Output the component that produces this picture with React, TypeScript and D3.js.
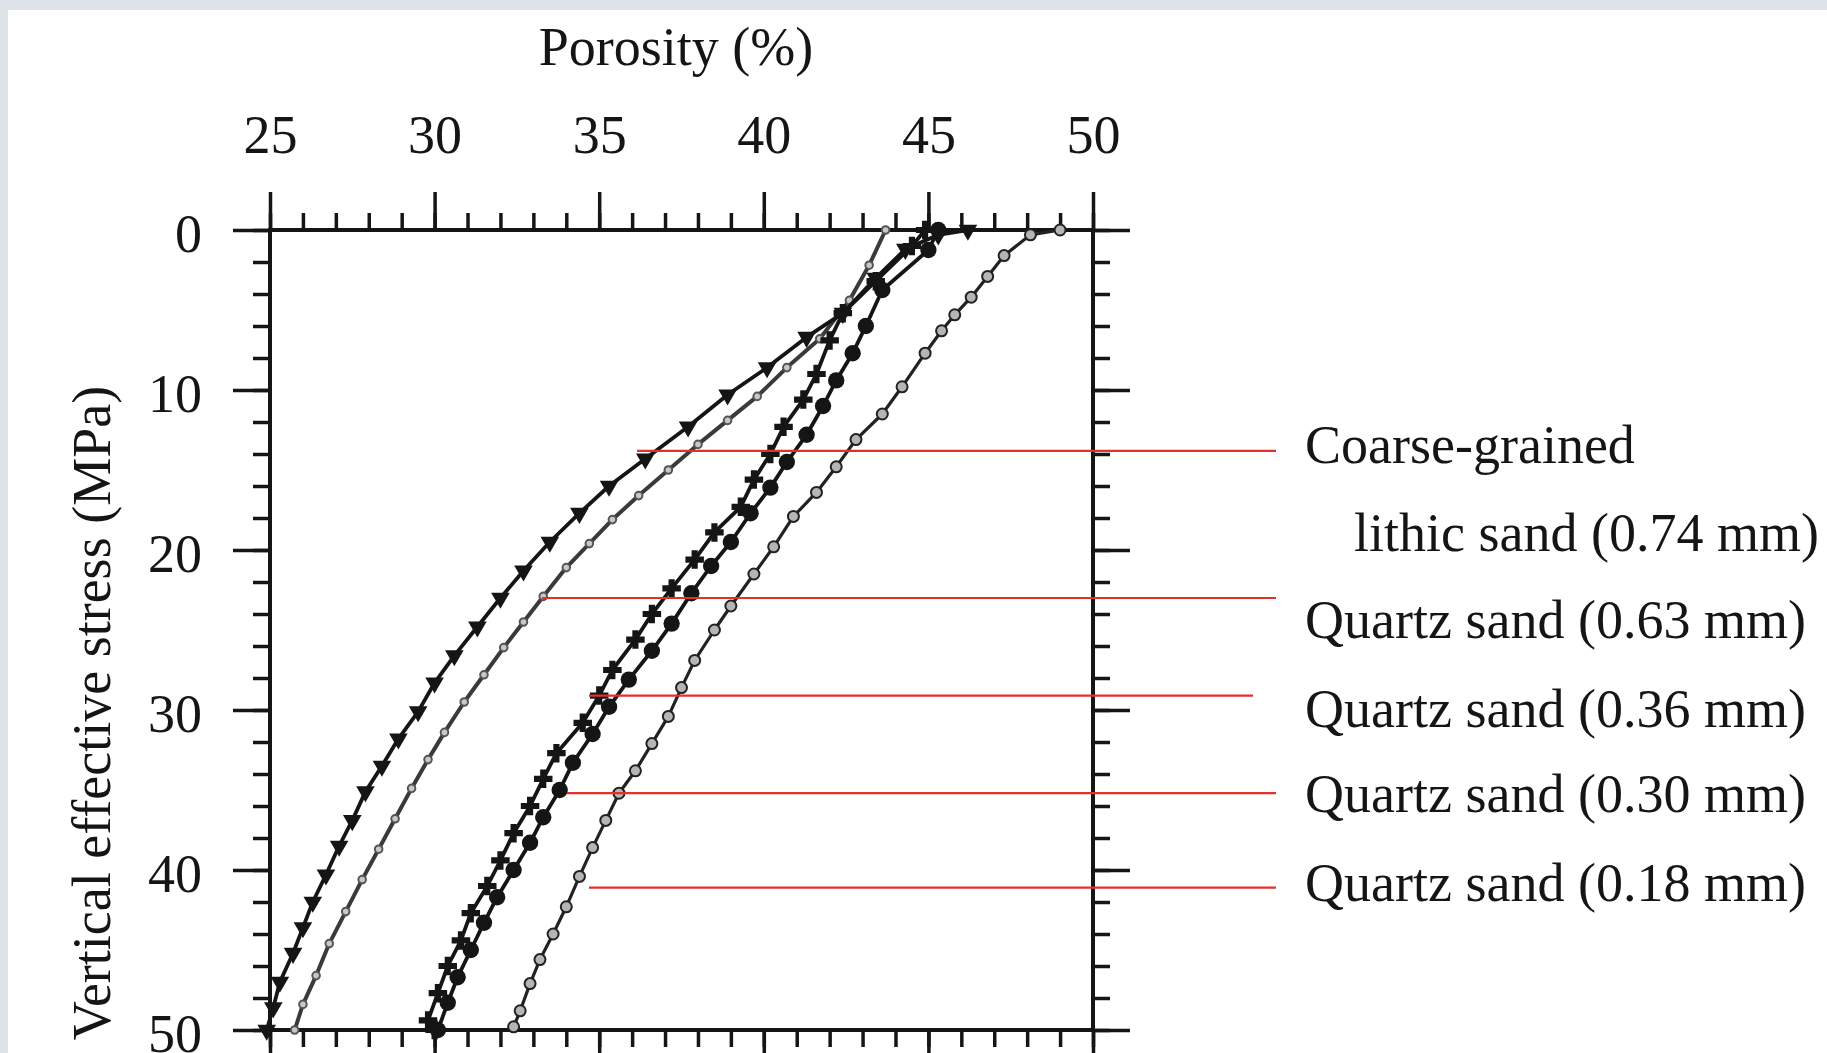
import React, { useEffect, useRef } from "react";
import * as d3 from "d3";

// [porosity %, vertical effective stress MPa]
const coarseLithic074 = [
  [46.2, 0], [45.3, 0.3], [44.3, 1.2], [43.4, 3.0], [42.4, 5.2], [41.3, 6.7], [40.1, 8.6],
  [38.9, 10.3], [37.7, 12.3], [36.4, 14.3], [35.3, 16.0], [34.4, 17.7], [33.5, 19.5],
  [32.7, 21.3], [32.0, 23.0], [31.3, 24.8], [30.6, 26.6], [30.0, 28.3], [29.5, 30.1],
  [28.9, 31.8], [28.4, 33.5], [27.9, 35.1], [27.5, 36.9], [27.1, 38.5], [26.7, 40.3],
  [26.3, 42.0], [26.0, 43.6], [25.7, 45.2], [25.3, 47.0], [25.1, 48.6], [24.9, 50],
];
const quartz063 = [
  [43.7, 0], [43.2, 2.2], [42.6, 4.4], [41.7, 6.8], [40.7, 8.6], [39.8, 10.4], [38.9, 11.9],
  [38.0, 13.4], [37.1, 15.0], [36.2, 16.6], [35.4, 18.1], [34.7, 19.6], [34.0, 21.1],
  [33.3, 22.9], [32.7, 24.5], [32.1, 26.1], [31.5, 27.8], [30.9, 29.5], [30.3, 31.4],
  [29.8, 33.1], [29.3, 34.9], [28.8, 36.8], [28.3, 38.7], [27.8, 40.6], [27.3, 42.6],
  [26.8, 44.6], [26.4, 46.6], [26.0, 48.4], [25.75, 50],
];
const quartz036 = [
  [44.9, 0], [44.5, 1.0], [43.4, 3.2], [42.4, 5.2], [42.0, 6.9], [41.6, 9.0], [41.2, 10.6],
  [40.6, 12.3], [40.2, 14.0], [39.7, 15.6], [39.3, 17.3], [38.5, 18.9], [37.9, 20.6],
  [37.2, 22.4], [36.6, 24.0], [36.1, 25.6], [35.4, 27.5], [35.0, 29.1], [34.5, 30.8],
  [33.7, 32.7], [33.3, 34.3], [32.9, 36.0], [32.4, 37.7], [32.0, 39.4], [31.6, 41.0],
  [31.1, 42.7], [30.8, 44.4], [30.4, 46.0], [30.1, 47.7], [29.8, 49.4], [30.0, 50],
];
const quartz030 = [
  [45.3, 0], [45.0, 1.25], [43.6, 3.75], [43.1, 6.0], [42.7, 7.7], [42.2, 9.4], [41.8, 11.0],
  [41.3, 12.8], [40.7, 14.5], [40.2, 16.1], [39.6, 17.7], [39.0, 19.5], [38.4, 21.0],
  [37.8, 22.7], [37.2, 24.6], [36.6, 26.3], [35.9, 28.1], [35.3, 29.8], [34.8, 31.5],
  [34.2, 33.3], [33.8, 35.0], [33.3, 36.7], [32.9, 38.3], [32.4, 40.0], [31.9, 41.7],
  [31.5, 43.3], [31.1, 45.0], [30.7, 46.7], [30.4, 48.3], [30.1, 50],
];
const quartz018 = [
  [49.0, 0], [48.1, 0.3], [47.3, 1.6], [46.8, 2.9], [46.3, 4.2], [45.8, 5.3], [45.4, 6.3],
  [44.9, 7.7], [44.2, 9.8], [43.6, 11.5], [42.8, 13.1], [42.2, 14.8], [41.6, 16.4],
  [40.9, 17.9], [40.3, 19.8], [39.7, 21.5], [39.0, 23.5], [38.5, 25.0], [37.9, 26.9],
  [37.5, 28.6], [37.1, 30.4], [36.6, 32.1], [36.1, 33.8], [35.6, 35.2], [35.2, 36.9],
  [34.8, 38.6], [34.4, 40.4], [34.0, 42.3], [33.6, 44.0], [33.2, 45.6], [32.9, 47.1],
  [32.6, 48.8], [32.4, 49.8],
];

const porosityTicks = [25, 30, 35, 40, 45, 50];
const stressTicks = [0, 10, 20, 30, 40, 50];

const legendLines = [
  "Coarse-grained",
  "lithic sand (0.74 mm)",
  "Quartz sand (0.63 mm)",
  "Quartz sand (0.36 mm)",
  "Quartz sand (0.30 mm)",
  "Quartz sand (0.18 mm)",
];
// where each red leader touches its curve: [porosity, stress]
const leaderPoints = [
  [36.15, 13.8],
  [33.26, 23.0],
  [34.69, 29.1],
  [34.02, 35.2],
  [34.69, 41.1],
];

const W = 1827;
const H = 1053;
const FONT = "'Liberation Serif', 'Times New Roman', serif";
const INK = "#151515";

export default function App() {
  const ref = useRef(null);

  useEffect(() => {
    const svg = d3.select(ref.current);
    svg.selectAll("*").remove();

    // page frame
    svg.append("rect").attr("width", W).attr("height", H).attr("fill", "#dde3e8");
    svg.append("rect").attr("x", 8).attr("y", 10).attr("width", W - 8).attr("height", H - 10).attr("fill", "#fff");

    const x = d3.scaleLinear().domain([25, 50]).range([270, 1093]);
    const y = d3.scaleLinear().domain([0, 50]).range([230, 1030]);

    const styleAxis = (g) => {
      g.select(".domain").remove();
      g.selectAll(".tick line").attr("stroke", INK).attr("stroke-width", 3.5);
      g.selectAll("text")
        .attr("font-family", FONT)
        .attr("font-size", 54)
        .attr("fill", INK);
    };

    const minorX = d3.range(25, 50.001, 1);
    const minorY = d3.range(0, 50.001, 2);
    const noLabel = () => "";

    // top
    svg.append("g").attr("transform", `translate(0,${y(0)})`)
      .call(d3.axisTop(x).tickValues(minorX).tickSize(17).tickSizeOuter(0).tickFormat(noLabel)).call(styleAxis);
    svg.append("g").attr("transform", `translate(0,${y(0)})`)
      .call(d3.axisTop(x).tickValues(porosityTicks).tickSize(38).tickPadding(39).tickSizeOuter(0)).call(styleAxis);
    // bottom
    svg.append("g").attr("transform", `translate(0,${y(50)})`)
      .call(d3.axisBottom(x).tickValues(minorX).tickSize(17).tickSizeOuter(0).tickFormat(noLabel)).call(styleAxis);
    svg.append("g").attr("transform", `translate(0,${y(50)})`)
      .call(d3.axisBottom(x).tickValues(porosityTicks).tickSize(38).tickSizeOuter(0).tickFormat(noLabel)).call(styleAxis);
    // left
    svg.append("g").attr("transform", `translate(${x(25)},0)`)
      .call(d3.axisLeft(y).tickValues(minorY).tickSize(17).tickSizeOuter(0).tickFormat(noLabel)).call(styleAxis);
    const left = svg.append("g").attr("transform", `translate(${x(25)},0)`)
      .call(d3.axisLeft(y).tickValues(stressTicks).tickSize(37).tickPadding(31).tickSizeOuter(0)).call(styleAxis);
    left.selectAll("text").attr("dy", "0.4em");
    // right
    svg.append("g").attr("transform", `translate(${x(50)},0)`)
      .call(d3.axisRight(y).tickValues(minorY).tickSize(17).tickSizeOuter(0).tickFormat(noLabel)).call(styleAxis);
    svg.append("g").attr("transform", `translate(${x(50)},0)`)
      .call(d3.axisRight(y).tickValues(stressTicks).tickSize(37).tickSizeOuter(0).tickFormat(noLabel)).call(styleAxis);

    // box
    svg.append("rect")
      .attr("x", x(25)).attr("y", y(0))
      .attr("width", x(50) - x(25)).attr("height", y(50) - y(0))
      .attr("fill", "none").attr("stroke", INK).attr("stroke-width", 4);

    // titles
    svg.append("text").attr("x", 676).attr("y", 65).attr("text-anchor", "middle")
      .attr("font-family", FONT).attr("font-size", 54).attr("fill", INK).text("Porosity (%)");
    svg.append("text").attr("transform", "translate(110,713) rotate(-90)").attr("text-anchor", "middle")
      .attr("font-family", FONT).attr("font-size", 54).attr("fill", INK).text("Vertical effective stress (MPa)");

    const line = d3.line().x((d) => x(d[0])).y((d) => y(d[1]));
    const plot = svg.append("g");

    const series = [
      { data: quartz063, stroke: "#3a3a3a", width: 4, sym: d3.symbolCircle, size: 45, fill: "#c8c8c8", mstroke: "#555", rot: 0 },
      { data: coarseLithic074, stroke: INK, width: 3.8, sym: d3.symbolTriangle, size: 150, fill: INK, mstroke: "none", rot: 180 },
      { data: quartz018, stroke: "#222", width: 3.2, sym: d3.symbolCircle, size: 95, fill: "#b5b5b5", mstroke: "#222", rot: 0 },
      { data: quartz036, stroke: INK, width: 3.8, sym: d3.symbolCross, size: 190, fill: INK, mstroke: "none", rot: 0 },
      { data: quartz030, stroke: INK, width: 3.8, sym: d3.symbolCircle, size: 210, fill: INK, mstroke: "none", rot: 0 },
    ];

    series.forEach((s) => {
      plot.append("path").datum(s.data).attr("d", line)
        .attr("fill", "none").attr("stroke", s.stroke).attr("stroke-width", s.width)
        .attr("stroke-linejoin", "round");
      plot.append("g").selectAll("path").data(s.data).enter().append("path")
        .attr("d", d3.symbol().type(s.sym).size(s.size))
        .attr("transform", (d) => `translate(${x(d[0])},${y(d[1])}) rotate(${s.rot})`)
        .attr("fill", s.fill).attr("stroke", s.mstroke).attr("stroke-width", 2);
    });

    // red leader lines
    const leaderEnds = [1276, 1276, 1253, 1276, 1276];
    svg.append("g").selectAll("line").data(leaderPoints).enter().append("line")
      .attr("x1", (d) => x(d[0])).attr("x2", (d, i) => leaderEnds[i])
      .attr("y1", (d) => y(d[1])).attr("y2", (d) => y(d[1]))
      .attr("stroke", "#e2302b").attr("stroke-width", 2.2);

    // legend text
    const legendX = [1305, 1354, 1305, 1305, 1305, 1305];
    const legendY = [463, 551, 638, 727, 812, 901];
    svg.append("g").selectAll("text").data(legendLines).enter().append("text")
      .attr("x", (d, i) => legendX[i]).attr("y", (d, i) => legendY[i])
      .attr("font-family", FONT).attr("font-size", 54).attr("fill", INK)
      .text((d) => d);
  }, []);

  return (
    <svg
      ref={ref}
      width={W}
      height={H}
      style={{ position: "absolute", left: 0, top: 0, display: "block" }}
    />
  );
}
